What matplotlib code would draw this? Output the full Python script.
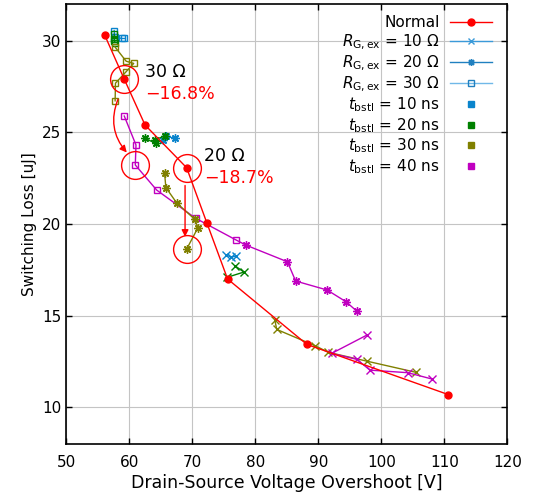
import matplotlib
matplotlib.use('Agg')
import matplotlib.pyplot as plt
from matplotlib.lines import Line2D

# normal operation
normal_x = [56.1, 59.2, 62.5, 69.1, 72.3, 75.6, 88.2, 110.6]
normal_y = [30.3, 27.9, 25.4, 23.07, 20.07, 17.0, 13.43, 10.7]

# t_bstl = 10 ns
b10_sq_x = [57.6, 57.7, 58.8, 59.2]
b10_sq_y = [30.55, 30.2, 30.12, 30.12]
b10_as_x = [65.3, 65.9, 67.3]
b10_as_y = [24.6, 24.78, 24.67]
b10_x_x = [75.4, 76.2, 77.0]
b10_x_y = [18.3, 18.2, 18.25]

# t_bstl = 20 ns
b20_sq_x = [57.6, 57.6, 57.7, 57.6]
b20_sq_y = [30.35, 30.1, 29.9, 30.0]
b20_as_x = [62.5, 64.2, 64.1, 65.6]
b20_as_y = [24.67, 24.4, 24.6, 24.8]
b20_x_x = [76.8, 78.2, 75.5]
b20_x_y = [17.71, 17.38, 17.09]

# t_bstl = 30 ns
b30_sq_x = [57.7, 59.5, 60.7, 59.5, 57.8, 57.75]
b30_sq_y = [29.67, 28.88, 28.76, 28.31, 27.68, 26.72]
b30_as_x = [65.6, 65.8, 67.5, 70.4, 70.9, 69.1]
b30_as_y = [22.78, 21.99, 21.16, 20.25, 19.8, 18.63]
b30_x_x = [83.1, 83.4, 89.5, 91.6, 97.7, 105.5]
b30_x_y = [14.76, 14.25, 13.36, 13.0, 12.52, 11.91]

# t_bstl = 40 ns
b40_sq_x = [59.2, 61.06, 60.95, 64.35, 70.54, 76.94]
b40_sq_y = [25.89, 24.31, 23.22, 21.85, 20.31, 19.13]
b40_as_x = [78.5, 85.1, 86.4, 91.4, 94.4, 96.1]
b40_as_y = [18.85, 17.94, 16.89, 16.40, 15.76, 15.25]
b40_x_x = [97.7, 92.1, 96.1, 98.2, 104.2, 108.1]
b40_x_y = [13.94, 12.94, 12.62, 12.03, 11.89, 11.54]

c10 = '#0a84cc'
c20 = '#008000'
c30 = '#808000'
c40 = '#c000c0'
red = '#ff0000'
ast = (8, 2, 0)

fig = plt.figure(figsize=(5.33, 4.95), dpi=100)
ax = fig.add_axes([0.1244, 0.103, 0.8274, 0.8889])

def series(xs, ys, c, m, connect=None):
    if connect is not None:
        xs = xs + [connect[0]]
        ys = ys + [connect[1]]
        me = list(range(len(xs) - 1))
    else:
        me = None
    if m == 's':
        ax.plot(xs, ys, color=c, lw=1, marker='s', ms=5, mfc='none', mec=c, mew=1, markevery=me)
    else:
        ax.plot(xs, ys, color=c, lw=1, marker=m, ms=6, mew=1, markevery=me)

series(b10_sq_x, b10_sq_y, c10, 's')
series(b20_sq_x, b20_sq_y, c20, 's')
series(b30_sq_x, b30_sq_y, c30, 's')
series(b40_sq_x, b40_sq_y, c40, 's', connect=(b40_as_x[0], b40_as_y[0]))
series(b10_as_x, b10_as_y, c10, ast)
series(b20_as_x, b20_as_y, c20, ast)
series(b30_as_x, b30_as_y, c30, ast)
series(b40_as_x, b40_as_y, c40, ast)
series(b10_x_x, b10_x_y, c10, 'x')
series(b20_x_x, b20_x_y, c20, 'x')
series(b30_x_x, b30_x_y, c30, 'x')
series(b40_x_x, b40_x_y, c40, 'x')

ax.plot(normal_x, normal_y, color=red, lw=1, marker='o', ms=5)

# highlight circles
for cx, cy in [(normal_x[1], normal_y[1]), (b40_sq_x[2], b40_sq_y[2]),
               (normal_x[3], normal_y[3]), (b30_as_x[5], b30_as_y[5])]:
    ax.plot(cx, cy, 'o', ms=20, mfc='none', mec=red, mew=1)

ax.annotate('', xy=(59.6, 23.9), xytext=(58.2, 26.8),
            arrowprops=dict(arrowstyle='-|>', color=red, lw=1,
                            connectionstyle='arc3,rad=0.3', shrinkA=0, shrinkB=0))
ax.annotate('', xy=(68.85, 19.3), xytext=(68.85, 22.1),
            arrowprops=dict(arrowstyle='-|>', color=red, lw=1, shrinkA=0, shrinkB=0))

ax.text(62.5, 28.3, '30 Ω', fontsize=12.5, va='center', ha='left')
ax.text(62.5, 27.1, '−16.8%', fontsize=12.5, va='center', ha='left', color=red)
ax.text(71.8, 23.7, '20 Ω', fontsize=12.5, va='center', ha='left')
ax.text(71.8, 22.5, '−18.7%', fontsize=12.5, va='center', ha='left', color=red)

ax.set_xlim(50, 120)
ax.set_ylim(8, 32)
ax.set_xticks([50, 60, 70, 80, 90, 100, 110, 120])
ax.set_yticks([10, 15, 20, 25, 30])
ax.grid(True, color='#c4c4c4', lw=0.8)
ax.set_axisbelow(True)
ax.tick_params(direction='in', length=4.5, top=True, right=True, labelsize=11, width=1)
ax.tick_params(axis='x', pad=8)
for s in ax.spines.values():
    s.set_linewidth(1.2)
ax.set_xlabel('Drain-Source Voltage Overshoot [V]', fontsize=12.5, labelpad=3)
ax.set_ylabel('Switching Loss [uJ]', fontsize=11)

handles = [
    Line2D([], [], color=red, lw=1, marker='o', ms=5),
    Line2D([], [], color='#3a9ad9', lw=1, marker='x', ms=5),
    Line2D([], [], color='#2080c0', lw=1, marker=ast, ms=5),
    Line2D([], [], color='#70b8e8', lw=1, marker='s', ms=5, mfc='none', mec='#2080c0'),
    Line2D([], [], color='none', marker='s', ms=5, mfc=c10, mec=c10),
    Line2D([], [], color='none', marker='s', ms=5, mfc=c20, mec=c20),
    Line2D([], [], color='none', marker='s', ms=5, mfc=c30, mec=c30),
    Line2D([], [], color='none', marker='s', ms=5, mfc=c40, mec=c40),
]
labels = ['Normal',
          r'$R_{\rm G,ex}$ = 10 Ω', r'$R_{\rm G,ex}$ = 20 Ω', r'$R_{\rm G,ex}$ = 30 Ω',
          r'$t_{\rm bstl}$ = 10 ns', r'$t_{\rm bstl}$ = 20 ns',
          r'$t_{\rm bstl}$ = 30 ns', r'$t_{\rm bstl}$ = 40 ns']
ax.legend(handles, labels, loc='upper right', bbox_to_anchor=(0.992, 1.0),
          frameon=False, markerfirst=False, fontsize=11, handlelength=2.8,
          labelspacing=0.12, handletextpad=0.65, borderpad=0.25)

fig.savefig('out.png', dpi=100)
